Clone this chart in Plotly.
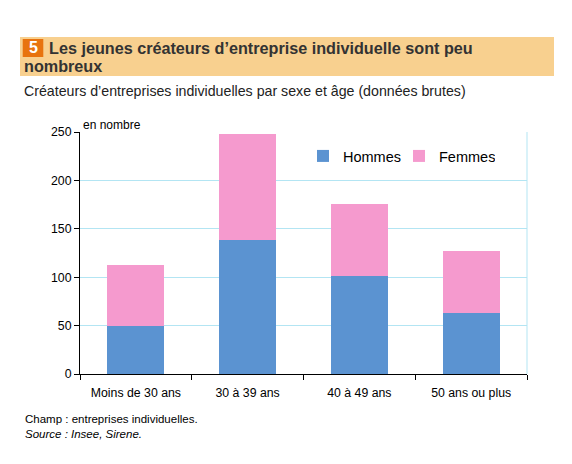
import plotly.graph_objects as go

categories = ["Moins de 30 ans", "30 à 39 ans", "40 à 49 ans", "50 ans ou plus"]
hommes = [50, 138, 101, 63]
femmes = [63, 110, 75, 64]
y_ticks = [0, 50, 100, 150, 200, 250]

# page body adds an 8px offset, so the figure is drawn 8px smaller
OFF = 8
W, H = 572 - OFF, 464 - OFF
L, R, T, B = 72, 45, 124, 90
pw, ph = W - L - R, H - T - B

def px(x):  # reference-pixel x -> paper
    return (x - OFF - L) / pw

def py(y):  # reference-pixel y -> paper
    return (H - B - (y - OFF)) / ph

FONT = "Liberation Sans, Arial, sans-serif"
BLUE = "#5B93D1"
PINK = "#F59ACE"
GRID = "#B3E5F3"

fig = go.Figure()
fig.add_bar(x=categories, y=hommes, name="Hommes", marker=dict(color=BLUE, line=dict(width=0)))
fig.add_bar(x=categories, y=femmes, name="Femmes", marker=dict(color=PINK, line=dict(width=0)))

fig.update_layout(
    width=W, height=H,
    margin=dict(l=L, r=R, t=T, b=B, autoexpand=False),
    barmode="stack", bargap=0.49,
    paper_bgcolor="white", plot_bgcolor="white",
    font=dict(family=FONT, size=12, color="#000"),
    showlegend=True,
    legend=dict(orientation="h", x=px(303), y=py(156), xanchor="left", yanchor="middle",
                traceorder="normal",
                font=dict(size=14.5, color="#000"), bgcolor="rgba(0,0,0,0)",
                itemwidth=30, entrywidthmode="pixels", entrywidth=51),
    xaxis=dict(showline=True, linecolor="#000", linewidth=1, ticks="outside", ticklen=5,
               tickcolor="#000", tickson="boundaries", showgrid=False, tickangle=0,
               ticklabelstandoff=7, tickfont=dict(size=12.3, color="#000")),
    yaxis=dict(range=[0, 250], tickvals=y_ticks, showline=True, linecolor="#000", linewidth=1,
               ticks="outside", ticklen=5, tickcolor="#000", showgrid=True, gridcolor=GRID,
               gridwidth=1, zeroline=False, tickfont=dict(size=12.3, color="#000")),
)

shapes = [
    dict(type="rect", xref="paper", yref="paper", x0=px(20), x1=px(554), y0=py(76), y1=py(37),
         fillcolor="#F8D08F", line=dict(width=0), layer="below"),
    dict(type="rect", xref="paper", yref="paper", x0=px(22.7), x1=px(43.3), y0=py(57), y1=py(39),
         fillcolor="#E8730E", line=dict(width=0)),
    dict(type="line", xref="paper", yref="paper", x0=1, x1=1, y0=0, y1=1,
         line=dict(color=GRID, width=1)),
]
fig.update_layout(shapes=shapes)

ann = [
    dict(text="<b>5</b>", x=px(33), y=py(47.5), xanchor="center", yanchor="middle",
         font=dict(size=16, color="white")),
    dict(text="<b>Les jeunes créateurs d’entreprise individuelle sont peu</b>", x=px(47), y=py(47.5),
         xanchor="left", yanchor="middle", font=dict(size=16.2, color="#333333")),
    dict(text="<b>nombreux</b>", x=px(22), y=py(66), xanchor="left", yanchor="middle",
         font=dict(size=16.2, color="#333333")),
    dict(text="Créateurs d’entreprises individuelles par sexe et âge (données brutes)", x=px(22), y=py(90.5),
         xanchor="left", yanchor="middle", font=dict(size=14.2, color="#222")),
    dict(text="en nombre", x=px(81), y=py(125), xanchor="left", yanchor="middle",
         font=dict(size=12, color="#000")),
    dict(text="Champ : entreprises individuelles.", x=px(23), y=py(419), xanchor="left", yanchor="middle",
         font=dict(size=11.5, color="#000")),
    dict(text="<i>Source : Insee, Sirene.</i>", x=px(23), y=py(434), xanchor="left", yanchor="middle",
         font=dict(size=11.5, color="#000")),
]
for a in ann:
    a.update(xref="paper", yref="paper", showarrow=False)
fig.update_layout(annotations=ann)

fig.write_html("out.html")
